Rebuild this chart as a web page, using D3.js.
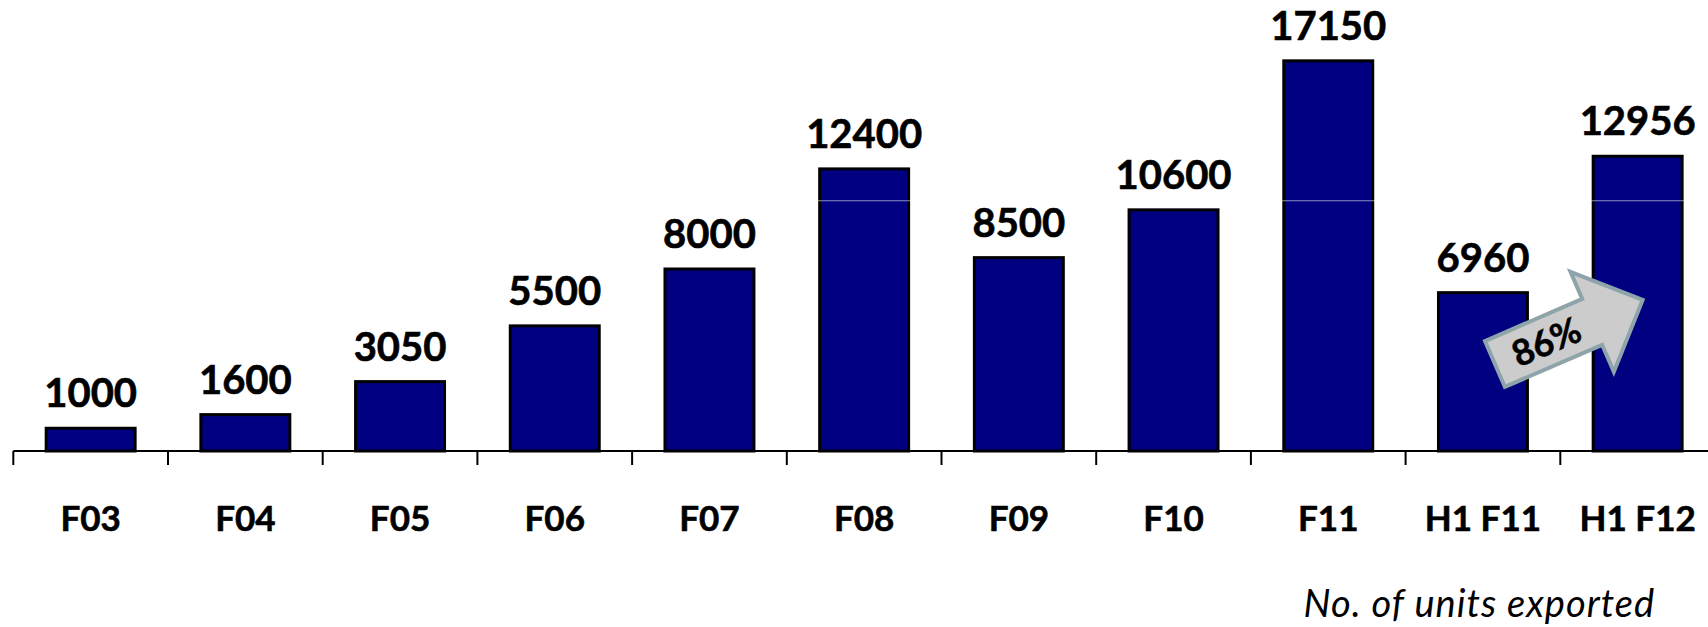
<!DOCTYPE html>
<html>
<head>
<meta charset="utf-8">
<script src="https://cdn.jsdelivr.net/npm/d3@7"></script>
<style>
  html, body { margin: 0; padding: 0; background: #ffffff; }
  svg { display: block; }
</style>
</head>
<body>
<svg id="chart" width="1708" height="627"></svg>
<script>
// Units exported per fiscal period
const categories = ["F03", "F04", "F05", "F06", "F07", "F08", "F09", "F10", "F11", "H1 F11", "H1 F12"];
const units = [1000, 1600, 3050, 5500, 8000, 12400, 8500, 10600, 17150, 6960, 12956];
const gridValues = [11000];
const growthLabel = "86%";
const noteText = "No. of units exported";

const W = 1708, H = 627;
const svg = d3.select("#chart");

const baseY = 451;
const step = 154.7;
const left = 13.3;

const x = d3.scaleBand()
  .domain(categories)
  .range([left, left + step * categories.length])
  .paddingInner(0.425)
  .paddingOuter(0.2125);

const y = d3.scaleLinear().domain([0, 20000]).range([baseY, -4]);

const font = "Lato, 'Open Sans', sans-serif";

// bars
svg.append("g").selectAll("rect")
  .data(units)
  .join("rect")
  .attr("x", (d, i) => x(categories[i]))
  .attr("y", d => y(d))
  .attr("width", x.bandwidth())
  .attr("height", d => y(0) - y(d))
  .attr("fill", "#000080")
  .attr("stroke", "#000")
  .attr("stroke-width", 3);

// faint gridline showing across the bars
svg.append("g").selectAll("line")
  .data(gridValues)
  .join("line")
  .attr("x1", left).attr("x2", W)
  .attr("y1", d => y(d)).attr("y2", d => y(d))
  .attr("stroke", "#ffffff")
  .attr("stroke-opacity", 0.55)
  .attr("stroke-width", 1);

// category axis
const axis = svg.append("g");
axis.append("line")
  .attr("x1", left).attr("x2", W)
  .attr("y1", baseY).attr("y2", baseY)
  .attr("stroke", "#000").attr("stroke-width", 2);

const pad = x.step() * x.paddingInner() / 2;
axis.selectAll("line.tick")
  .data(categories)
  .join("line")
  .attr("class", "tick")
  .attr("x1", d => x(d) - pad).attr("x2", d => x(d) - pad)
  .attr("y1", baseY).attr("y2", baseY + 14)
  .attr("stroke", "#000").attr("stroke-width", 2);

axis.selectAll("text")
  .data(categories)
  .join("text")
  .attr("x", d => x(d) + x.bandwidth() / 2)
  .attr("y", 531)
  .attr("text-anchor", "middle")
  .attr("font-family", font)
  .attr("font-weight", 700)
  .attr("font-size", 35)
  .attr("fill", "#000")
  .attr("stroke", "#000")
  .attr("stroke-width", 0.6)
  .text(d => d);

// value labels
svg.append("g").selectAll("text")
  .data(units)
  .join("text")
  .attr("x", (d, i) => x(categories[i]) + x.bandwidth() / 2)
  .attr("y", d => y(d) - 21)
  .attr("text-anchor", "middle")
  .attr("font-family", font)
  .attr("font-weight", 700)
  .attr("font-size", 40)
  .attr("fill", "#000")
  .attr("stroke", "#000")
  .attr("stroke-width", 0.6)
  .text(d => d);

// growth arrow between the two half-year bars
const fromX = x("H1 F11") + x.bandwidth() / 2 + 12, fromY = 364;
const toX = x("H1 F12") + x.bandwidth() / 2 + 5, toY = 300;
const len = Math.hypot(toX - fromX, toY - fromY);
const ang = Math.atan2(toY - fromY, toX - fromX) * 180 / Math.PI;
const shaftW = 50, headW = 109, headL = 55;
const sL = len - headL;
const arrowPath = d3.path();
arrowPath.moveTo(0, -shaftW / 2);
arrowPath.lineTo(sL, -shaftW / 2);
arrowPath.lineTo(sL, -headW / 2);
arrowPath.lineTo(len, 0);
arrowPath.lineTo(sL, headW / 2);
arrowPath.lineTo(sL, shaftW / 2);
arrowPath.lineTo(0, shaftW / 2);
arrowPath.closePath();

const arrow = svg.append("g")
  .attr("transform", `translate(${fromX},${fromY}) rotate(${ang})`);
arrow.append("path")
  .attr("d", arrowPath.toString())
  .attr("fill", "#cccccc")
  .attr("stroke", "#8da5aa")
  .attr("stroke-width", 4)
  .attr("stroke-linejoin", "miter");
arrow.append("text")
  .attr("x", 56)
  .attr("y", 0)
  .attr("dy", "0.36em")
  .attr("text-anchor", "middle")
  .attr("font-family", font)
  .attr("font-weight", 700)
  .attr("font-size", 36)
  .attr("fill", "#000")
  .attr("stroke", "#000")
  .attr("stroke-width", 0.5)
  .text(growthLabel);

// footnote
svg.append("text")
  .attr("x", 1655)
  .attr("y", 617)
  .attr("text-anchor", "end")
  .attr("font-family", font)
  .attr("font-style", "italic")
  .attr("font-size", 38)
  .attr("letter-spacing", 1)
  .attr("fill", "#000")
  .text(noteText);
</script>
</body>
</html>
